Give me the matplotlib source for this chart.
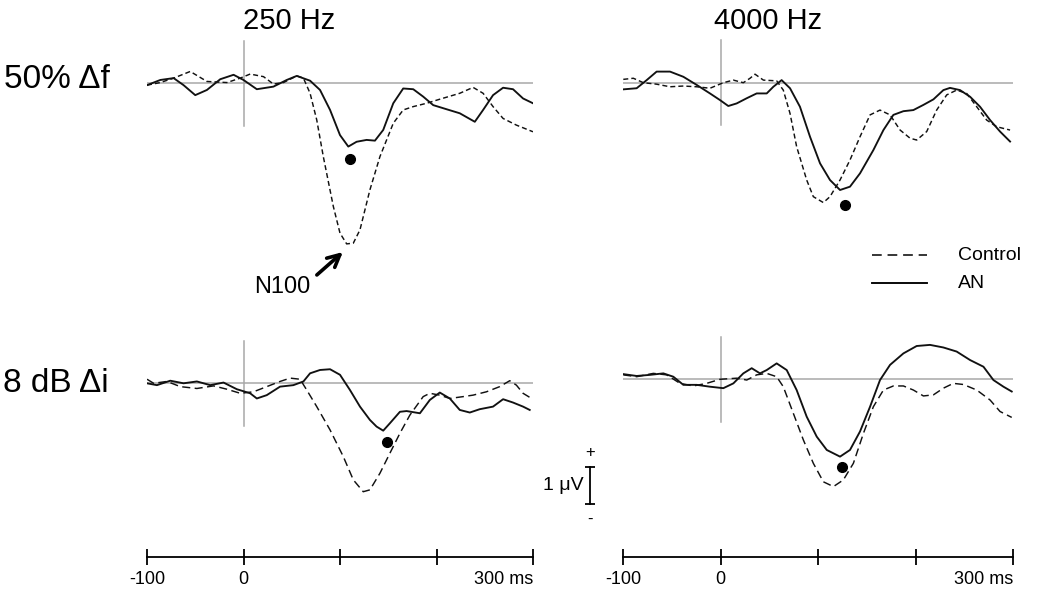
import matplotlib
matplotlib.use("Agg")
import matplotlib.pyplot as plt
from matplotlib.lines import Line2D

plt.rcParams['font.family'] = ['Liberation Sans', 'DejaVu Sans']
plt.rcParams['lines.scale_dashes'] = False

# ---------------- data (time in ms, amplitude in microvolts) ----------------
tl_ctrl_t = [-100, -86.2, -72.4, -55.2, -37.9, -17.2, -3.4, 6.9, 20.7, 31.0, 41.4, 55.2, 62.1, 69.0, 75.9,
             82.7, 93.1, 100, 106.9, 113.8, 120.7, 131.0, 141.4, 155.2, 165.5, 175.9, 189.7, 203.4, 224.1,
             237.9, 248.3, 258.6, 269.0, 282.8, 300]
tl_ctrl_v = [-0.05, 0.02, 0.14, 0.32, 0.05, 0.02, 0.14, 0.25, 0.18, -0.02, 0.02, 0.2, 0.14, -0.27, -0.99,
             -1.98, -3.33, -4.05, -4.34, -4.32, -3.96, -2.88, -1.98, -1.08, -0.72, -0.63, -0.54, -0.43, -0.27,
             -0.11, -0.27, -0.63, -0.95, -1.13, -1.31]
tl_an_t = [-100, -86.2, -72.4, -62.1, -50.0, -37.9, -24.1, -10.3, 0, 13.8, 31.0, 44.8, 55.2, 69.0, 79.3, 89.7,
           100, 108.6, 117.2, 127.6, 136.2, 144.8, 155.2, 165.5, 175.9, 186.2, 196.6, 210.3, 224.1, 239.7,
           248.3, 258.6, 269.0, 279.3, 289.7, 300]
tl_an_v = [-0.05, 0.09, 0.14, -0.05, -0.32, -0.18, 0.11, 0.23, 0.09, -0.16, -0.09, 0.09, 0.2, 0.07, -0.18, -0.72,
           -1.40, -1.71, -1.58, -1.53, -1.55, -1.26, -0.54, -0.14, -0.16, -0.36, -0.59, -0.70, -0.81, -1.04,
           -0.72, -0.32, -0.12, -0.16, -0.41, -0.54]

tr_ctrl_t = [-99.7, -89.4, -79.1, -65.5, -51.8, -38.1, -24.4, -10.8, 2.9, 13.2, 23.4, 30.3, 35.4, 44.0, 57.6,
             64.4, 71.3, 78.1, 88.4, 95.2, 105.5, 112.3, 122.6, 132.8, 143.1, 153.4, 163.6, 173.9, 184.2, 194.4,
             201.2, 211.5, 221.7, 232.0, 242.2, 252.5, 262.8, 273.0, 283.3, 297.0]
tr_ctrl_v = [0.09, 0.12, 0, -0.04, -0.11, -0.09, -0.11, -0.15, 0, 0.07, 0, 0.12, 0.23, 0.07, 0.05,
             -0.20, -0.83, -1.73, -2.63, -3.08, -3.24, -3.08, -2.63, -2.09, -1.46, -0.87, -0.74, -0.87, -1.28, -1.50,
             -1.55, -1.32, -0.74, -0.33, -0.20, -0.29, -0.65, -1.01, -1.19, -1.28]
tr_an_t = [-99.7, -86.0, -75.7, -65.5, -51.8, -38.1, -24.4, -10.8, -0.5, 8.0, 16.6, 26.9, 37.1, 47.4, 54.2,
           62.7, 71.3, 81.5, 91.8, 102.1, 112.3, 122.6, 132.8, 143.1, 156.8, 167.1, 177.3, 187.6, 197.8, 208.1,
           218.4, 228.6, 235.4, 245.7, 256.0, 266.2, 276.5, 286.7, 297.0]
tr_an_v = [-0.18, -0.15, 0.07, 0.30, 0.30, 0.16, -0.06, -0.29, -0.47, -0.63, -0.56, -0.42, -0.29, -0.29, -0.11,
           0.07, -0.15, -0.65, -1.46, -2.18, -2.63, -2.90, -2.81, -2.45, -1.82, -1.28, -0.87, -0.77, -0.74, -0.60,
           -0.45, -0.20, -0.14, -0.20, -0.38, -0.65, -1.01, -1.32, -1.59]

bl_ctrl_t = [-100, -93.1, -79.3, -65.5, -48.3, -31.0, -17.2, -3.4, 10.3, 24.1, 37.9, 48.3, 58.6, 65.5, 75.9,
             89.7, 103.4, 113.8, 124.1, 131.0, 141.4, 151.7, 162.1, 172.4, 186.2, 193.1, 203.4, 213.8, 227.6,
             237.9, 251.7, 265.5, 275.9, 282.8, 289.7, 296.6]
bl_ctrl_v = [0.11, 0, 0.05, -0.09, -0.14, -0.07, -0.16, -0.27, -0.23, -0.09, 0.05, 0.14, 0.11, -0.18, -0.63,
             -1.26, -1.98, -2.61, -2.93, -2.88, -2.43, -1.89, -1.35, -0.86, -0.36, -0.27, -0.32, -0.41, -0.36,
             -0.32, -0.23, -0.09, 0.07, -0.05, -0.27, -0.38]
bl_an_t = [-100, -89.7, -75.9, -62.1, -48.3, -34.5, -20.7, -6.9, 6.9, 13.8, 24.1, 37.9, 51.7, 62.1, 69.0, 79.3,
           89.7, 100, 110.3, 120.7, 131.0, 137.9, 144.8, 151.7, 162.1, 169.0, 182.8, 193.1, 203.4, 213.8, 224.1,
           234.5, 244.8, 258.6, 269.0, 279.3, 289.7, 296.6]
bl_an_v = [0, -0.05, 0.07, 0, 0.05, -0.05, 0.02, -0.16, -0.27, -0.41, -0.32, -0.09, -0.05, 0.05, 0.27, 0.36,
           0.38, 0.23, -0.18, -0.63, -0.99, -1.17, -1.28, -1.08, -0.77, -0.75, -0.81, -0.45, -0.25, -0.41, -0.72,
           -0.79, -0.70, -0.63, -0.43, -0.52, -0.63, -0.72]

br_ctrl_t = [-99.7, -86.0, -68.9, -55.2, -41.5, -27.9, -14.2, -0.5, 16.6, 26.9, 37.1, 47.4, 57.6, 64.4, 74.7,
             85.0, 95.2, 105.5, 115.8, 126.0, 136.3, 146.6, 156.8, 167.1, 177.3, 187.6, 197.8, 208.1, 218.4,
             228.6, 238.8, 249.1, 262.8, 276.5, 286.7, 298.7]
br_ctrl_v = [0.12, 0.07, 0.16, 0.12, -0.11, -0.18, -0.11, 0, 0.03, -0.02, 0.12, 0.16, 0.07, -0.20, -0.92,
             -1.64, -2.27, -2.77, -2.90, -2.72, -2.27, -1.46, -0.74, -0.29, -0.18, -0.18, -0.29, -0.45, -0.42,
             -0.24, -0.11, -0.14, -0.29, -0.56, -0.87, -1.03]
br_an_t = [-99.7, -86.0, -72.3, -58.6, -48.4, -38.1, -24.4, -10.8, 2.9, 13.2, 23.4, 32.0, 40.5, 47.4, 57.6, 67.9,
           78.1, 88.4, 98.7, 109.0, 122.6, 132.8, 143.1, 153.4, 163.6, 173.9, 187.6, 201.2, 214.9, 228.6, 242.2,
           256.0, 269.7, 279.9, 290.2, 298.7]
br_an_v = [0.14, 0.09, 0.12, 0.16, 0.07, -0.15, -0.15, -0.20, -0.24, -0.11, 0.16, 0.30, 0.16, 0.25, 0.43, 0.25,
           -0.29, -1.01, -1.55, -1.91, -2.09, -1.91, -1.41, -0.74, -0.02, 0.39, 0.70, 0.90, 0.93, 0.86, 0.75,
           0.52, 0.34, -0.02, -0.20, -0.33]

# N100 peak markers (ms, uV) on the AN traces
peaks_t = [110, 128, 149, 125]
peaks_v = [-2.05, -3.31, -1.59, -2.36]

freq_titles = ["250 Hz", "4000 Hz"]
row_labels = ["50% \u0394f", "8 dB \u0394i"]
time_ticks = [-100, 0, 100, 200, 300]
time_labels = ["-100", "0", "", "", "300 ms"]

# ---------------- layout ----------------
W, H = 1050, 591
fig = plt.figure(figsize=(W / 100, H / 100), dpi=100)
PXUV = 37.0  # pixels per microvolt

def fx(px):
    return px / W

def fy(py):
    return 1 - py / H

def add_panel(x0, x1, base_py, ymin, ymax):
    top = base_py - ymax * PXUV
    bot = base_py - ymin * PXUV
    ax = fig.add_axes([fx(x0), fy(bot), (x1 - x0) / W, (bot - top) / H])
    ax.set_xlim(-100, 300)
    ax.set_ylim(ymin, ymax)
    ax.axis('off')
    return ax

ax_tl = add_panel(147, 533, 83.3, -5.0, 1.5)
ax_tr = add_panel(623, 1013, 82.7, -5.0, 1.5)
ax_bl = add_panel(147, 533, 383.3, -4.0, 1.5)
ax_br = add_panel(623, 1013, 379.3, -4.0, 1.5)

gray = '#a8a8a8'
panels = [
    (ax_tl, tl_ctrl_t, tl_ctrl_v, tl_an_t, tl_an_v, (3.6, 2.2)),
    (ax_tr, tr_ctrl_t, tr_ctrl_v, tr_an_t, tr_an_v, (3.6, 2.2)),
    (ax_bl, bl_ctrl_t, bl_ctrl_v, bl_an_t, bl_an_v, (5.8, 3.2)),
    (ax_br, br_ctrl_t, br_ctrl_v, br_an_t, br_an_v, (5.8, 3.2)),
]
for i, (ax, ct, cv, at, av, dash) in enumerate(panels):
    ax.plot([-100, 300], [0, 0], color=gray, lw=1.1, zorder=1)
    ax.plot([0, 0], [-1.15, 1.15], color=gray, lw=1.1, zorder=1, clip_on=False)
    ax.plot(ct, cv, color='#111111', lw=1.05, dashes=dash, zorder=3,
            solid_joinstyle='round', dash_joinstyle='round')
    ax.plot(at, av, color='#111111', lw=1.35, zorder=3, solid_joinstyle='round')
    ax.plot([peaks_t[i]], [peaks_v[i]], 'o', color='black', ms=7, zorder=4)

# Titles and row labels
fig.text(fx(289), fy(21), freq_titles[0], ha='center', va='center', fontsize=21)
fig.text(fx(768), fy(21), freq_titles[1], ha='center', va='center', fontsize=21)
fig.text(fx(4), fy(80), row_labels[0], ha='left', va='center', fontsize=24)
fig.text(fx(3), fy(383), row_labels[1], ha='left', va='center', fontsize=24)

# N100 annotation
ax_tl.annotate('', xy=(103, -4.56), xytext=(76, -5.18), textcoords='data',
               arrowprops=dict(arrowstyle='->', lw=2.6, color='black', mutation_scale=22,
                               shrinkA=0, shrinkB=0),
               annotation_clip=False)
ax_tl.text(40, -5.5, 'N100', fontsize=17, ha='center', va='center')

# Legend
fig.add_artist(Line2D([fx(872), fx(927)], [fy(255), fy(255)], color='black', lw=1.1,
                      linestyle=(0, (7, 4.2))))
fig.add_artist(Line2D([fx(872), fx(927)], [fy(283), fy(283)], color='black', lw=1.35))
fig.text(fx(958), fy(255), 'Control', ha='left', va='center', fontsize=14)
fig.text(fx(958), fy(283), 'AN', ha='left', va='center', fontsize=14)

# 1 uV scale bar (drawn in the bottom-left panel's data units)
sx = (590 - 147) / 386 * 400 - 100
sy0 = (383.3 - 467) / PXUV
ax_bl.plot([sx, sx], [sy0, sy0 - 1.0], color='black', lw=1.3, clip_on=False)
ax_bl.plot([sx, sx], [sy0, sy0 - 1.0], ls='none', marker='_', ms=7.5, mew=1.3, color='black', clip_on=False)
ax_bl.text(sx, sy0 + 0.4, '+', ha='center', va='center', fontsize=12)
ax_bl.text(sx, sy0 - 1.42, '-', ha='center', va='center', fontsize=12)
ax_bl.text(sx - 7, sy0 - 0.5, '1 \u03bcV', ha='right', va='center', fontsize=14)

# Time axes
for x0, x1 in [(147, 533), (623, 1013)]:
    axt = fig.add_axes([fx(x0), fy(557), (x1 - x0) / W, 0.0005])
    axt.set_xlim(-100, 300)
    axt.set_yticks([])
    for s in ['top', 'left', 'right']:
        axt.spines[s].set_visible(False)
    axt.spines['bottom'].set_linewidth(1.3)
    axt.patch.set_visible(False)
    axt.set_xticks(time_ticks)
    axt.set_xticklabels(time_labels)
    axt.tick_params(axis='x', direction='inout', length=11, width=1.3, labelsize=13, pad=4.5)
    axt.get_xticklabels()[-1].set_ha('right')
    axt.get_xticklabels()[-1].set_x(300)

fig.savefig('out.png', dpi=100, facecolor='white')
